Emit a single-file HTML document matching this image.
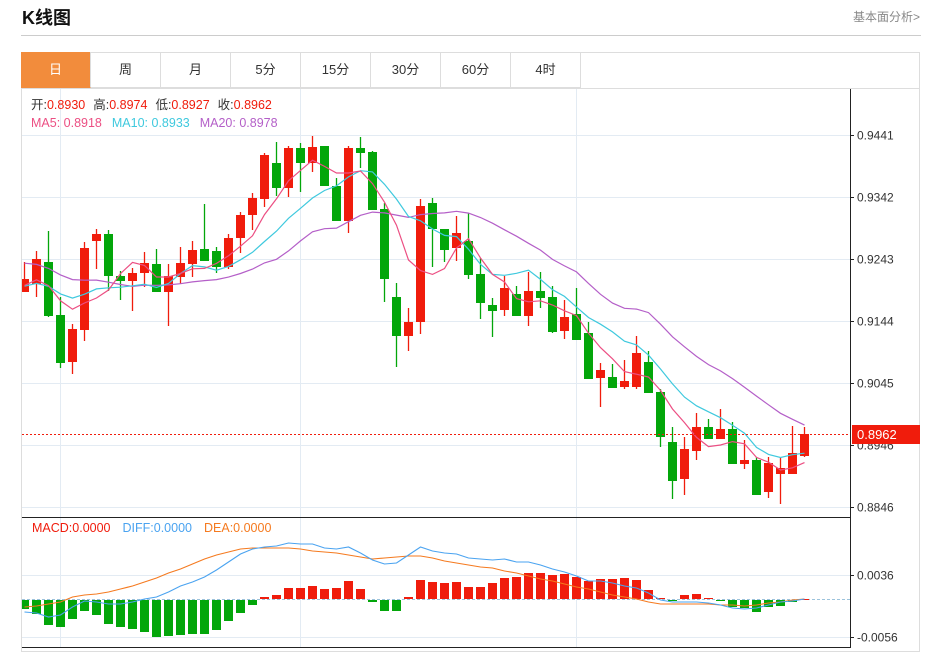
<!DOCTYPE html>
<html><head><meta charset="utf-8">
<style>
body{margin:0;background:#fff;width:938px;height:650px;overflow:hidden;font-family:"Liberation Sans","Noto Sans CJK SC",sans-serif;}
.t{position:absolute;left:22px;top:4px;font-size:18px;font-weight:bold;color:#111;}
.r{position:absolute;right:18px;top:8px;font-size:12px;color:#888;}
.hl{position:absolute;left:21px;top:35px;width:900px;height:1px;background:#ccc;}
.box{position:absolute;left:21px;top:52px;width:899px;height:600px;border:1px solid #ddd;box-sizing:border-box;}
.tl{position:absolute;left:21px;top:88px;width:899px;height:1px;background:#ddd;}
.tabs{position:absolute;left:21px;top:52px;height:36px;}
.tab{position:absolute;top:0;width:70px;height:36px;line-height:36px;text-align:center;font-size:13px;color:#333;border-right:1px solid #ddd;border-bottom:1px solid #ddd;box-sizing:border-box;}
</style></head><body>
<div class="t">K线图</div>
<div class="r">基本面分析&gt;</div>
<div class="hl"></div>
<div class="box"></div>
<div class="tl"></div>
<div class="tabs">
<div class="tab" style="left:0;background:#f28c3c;color:#fff;border-bottom-color:#f28c3c">日</div>
<div class="tab" style="left:70px">周</div>
<div class="tab" style="left:140px">月</div>
<div class="tab" style="left:210px">5分</div>
<div class="tab" style="left:280px">15分</div>
<div class="tab" style="left:350px">30分</div>
<div class="tab" style="left:420px">60分</div>
<div class="tab" style="left:490px">4时</div>
</div>
<svg id="s" width="938" height="650" style="position:absolute;left:0;top:0" xmlns="http://www.w3.org/2000/svg"></svg>
<script>
var C=[
['r',279,292,262,292],['r',259,284,251,297],['g',262,316,231,317],['g',315,363,297,368],['r',329,362,324,374],
['r',248,330,242,341],['r',234,241,229,269],['g',234,276,230,291],['g',276,281,271,300],['r',273,281,268,311],
['r',263,273,252,287],['g',264,292,249,292],['r',276,292,264,326],['r',263,277,247,284],['r',250,264,241,277],
['g',249,261,204,261],['g',251,267,247,273],['r',238,267,234,269],['r',215,238,212,253],['r',198,215,193,230],
['r',155,199,153,207],['g',163,188,142,196],['r',148,188,146,197],['g',148,163,143,192],['r',147,163,136,172],
['g',146,186,146,186],['g',186,221,178,221],['r',148,221,146,233],['g',148,153,137,168],['g',152,210,151,210],
['g',209,279,203,302],['g',297,336,283,367],['r',322,336,308,351],['r',206,322,199,334],['g',203,229,198,267],
['g',229,250,229,262],['r',233,248,216,261],['g',241,275,213,279],['g',274,303,258,319],['g',305,311,298,337],
['r',288,310,276,316],['g',294,316,286,316],['r',291,316,272,326],['g',291,298,272,308],['g',297,332,286,333],
['r',317,331,300,339],['g',314,340,288,340],['g',333,379,322,379],['r',370,378,363,407],['g',377,388,364,388],
['r',381,387,360,389],['r',353,387,336,389],['g',362,393,351,393],['g',392,437,389,447],['g',442,481,427,499],
['r',449,479,437,495],['r',427,451,413,460],['g',427,439,419,439],['r',429,439,409,439],['g',429,464,422,464],
['r',460,464,440,469],['g',460,495,457,495],['r',463,492,457,498],['r',468,474,457,504],['r',453,474,426,474],
['r',434,456,427,457]];
var M=[-9,-14,-25,-27,-19,-11,-15,-24,-27,-29,-32,-37,-36,-35,-34,-34,-30,-21,-13,-5,2,4,11,11,13,10,11,18,10,-2,-11,-11,2,19,17,16,17,12,12,16,21,22,26,26,24,25,22,18,20,20,21,19,9,1,-1,4,5,1,-1,-7,-8,-12,-7,-6,-2,0];
var DF=[612,613,617,615,607,601,602,604,604,602,599,597,592,586,582,577,570,562,554,549,547,546,543,544,544,548,549,547,553,560,564,563,555,547,551,553,554,558,559,560,559,562,562,565,569,572,576,581,581,583,586,588,593,600,602,602,602,603,605,608,609,608,605,602,601,599];
var DE=[607,606,604,602,597,595,594,592,589,586,582,578,573,569,564,559,555,552,549,548,548,548,548,549,551,552,553,555,557,559,558,557,556,556,558,561,563,565,567,568,571,573,576,579,581,584,587,589,592,595,597,599,602,604,604,604,604,604,605,605,606,605,603,602,600,599];
var RED='#f01c0c',GRN='#03a60a';
var h='';
function X(i){return 24.5+12*i;}
[135,197,259,321,383,445,507,575,637].forEach(function(y){h+='<line x1="22" x2="850" y1="'+(y+.5)+'" y2="'+(y+.5)+'" stroke="#e3ebf3"/>';});
[60,300,576].forEach(function(x){h+='<line x1="'+(x+.5)+'" x2="'+(x+.5)+'" y1="89" y2="648" stroke="#e3ebf3"/>';});
h+='<line x1="22" x2="850" y1="517.5" y2="517.5" stroke="#222"/>';
h+='<line x1="22" x2="850" y1="647.5" y2="647.5" stroke="#222"/>';
h+='<line x1="850.5" x2="850.5" y1="89" y2="648" stroke="#222"/>';
h+='<line x1="22" x2="850" y1="599.5" y2="599.5" stroke="#9cc3dc" stroke-dasharray="3,2"/>';
var L=[[135,'0.9441'],[197,'0.9342'],[259,'0.9243'],[321,'0.9144'],[383,'0.9045'],[445,'0.8946'],[507,'0.8846'],[575,'0.0036'],[637,'-0.0056']];
L.forEach(function(a){h+='<line x1="850" x2="854" y1="'+(a[0]+.5)+'" y2="'+(a[0]+.5)+'" stroke="#222"/><text x="857" y="'+(a[0]+4.5)+'" font-size="12" fill="#333">'+a[1]+'</text>';});
h+='<svg x="22" y="89" width="828" height="428"><g transform="translate(-22,-89)">';
C.forEach(function(c,i){var x=X(i),col=c[0]=='r'?RED:GRN;
h+='<line x1="'+x+'" x2="'+x+'" y1="'+c[3]+'" y2="'+c[4]+'" stroke="'+col+'" stroke-width="1.3"/>';
h+='<rect x="'+(x-4.5)+'" y="'+c[1]+'" width="9" height="'+Math.max(1,c[2]-c[1])+'" fill="'+col+'"/>';});
var cl=[];for(var k=0;k<19;k++)cl.push(k<9?235:287);
C.forEach(function(c){cl.push(c[0]=='r'?c[1]:c[2]);});
function ma(n,col){var p=[];for(var i=0;i<C.length;i++){var s=0;for(var j=0;j<n;j++)s+=cl[i+19-j];p.push(X(i)+','+(s/n).toFixed(1));}
h+='<polyline points="'+p.join(' ')+'" fill="none" stroke="'+col+'" stroke-width="1.2"/>';}
ma(20,'#b45fc8');ma(10,'#3fc9de');ma(5,'#ec4f83');
h+='</g></svg>';
h+='<line x1="22" x2="850" y1="434.5" y2="434.5" stroke="'+RED+'" stroke-dasharray="2,2"/>';
h+='<rect x="852" y="425" width="68" height="19" fill="'+RED+'"/><text x="857" y="439" font-size="13" fill="#fff">0.8962</text>';
h+='<svg x="22" y="518" width="828" height="129"><g transform="translate(-22,-518)">';
M.forEach(function(m,i){var x=X(i);if(m>=0)h+='<rect x="'+(x-4.5)+'" y="'+(599-m)+'" width="9" height="'+Math.max(m,1)+'" fill="'+RED+'"/>';else h+='<rect x="'+(x-4.5)+'" y="600" width="9" height="'+(-m)+'" fill="'+GRN+'"/>';});
function pl(a,col){h+='<polyline points="'+a.map(function(v,i){return X(i)+','+v;}).join(' ')+'" fill="none" stroke="'+col+'" stroke-width="1.1"/>';}
pl(DE,'#f57a1f');pl(DF,'#4aa3f0');
h+='</g></svg>';
h+='<text y="109" font-size="12.5"><tspan x="31" fill="#333">开:</tspan><tspan fill="'+RED+'">0.8930</tspan><tspan dx="8" fill="#333">高:</tspan><tspan fill="'+RED+'">0.8974</tspan><tspan dx="8" fill="#333">低:</tspan><tspan fill="'+RED+'">0.8927</tspan><tspan dx="8" fill="#333">收:</tspan><tspan fill="'+RED+'">0.8962</tspan></text>';
h+='<text y="127" font-size="12.5"><tspan x="31" fill="#ec4f83">MA5: 0.8918</tspan><tspan dx="10" fill="#3fc9de">MA10: 0.8933</tspan><tspan dx="10" fill="#b45fc8">MA20: 0.8978</tspan></text>';
h+='<text y="532" font-size="12.5"><tspan x="32" fill="'+RED+'">MACD:0.0000</tspan><tspan dx="12" fill="#4aa3f0">DIFF:0.0000</tspan><tspan dx="12" fill="#f57a1f">DEA:0.0000</tspan></text>';
document.getElementById('s').innerHTML=h;
</script>
</body></html>
